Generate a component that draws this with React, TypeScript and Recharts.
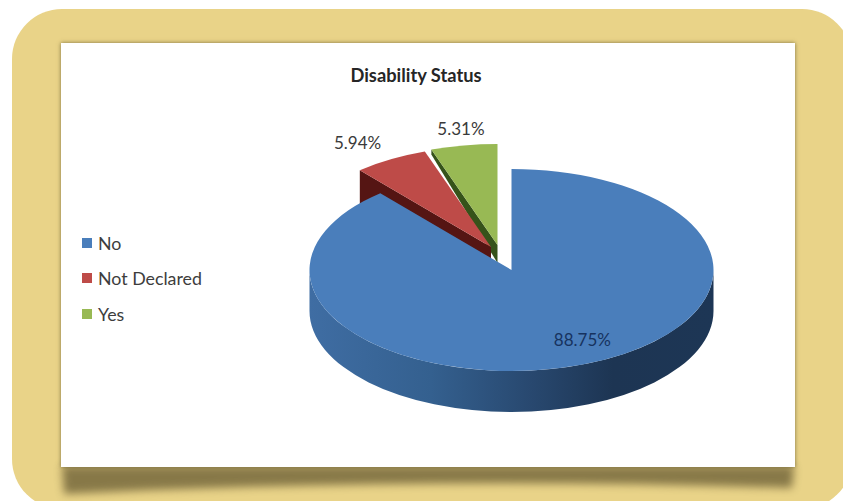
import React from "react";
import { PieChart, Pie, Legend } from "recharts";

// Disability status shares, in percent.
const categories = ["No", "Not Declared", "Yes"];
const shares = [88.75, 5.94, 5.31];
const sliceColors = ["#4a7ebb", "#be4b48", "#98b954"];

// Painted back to front and counter-clockwise from twelve o'clock, so the large slice overlaps the others.
const table = categories
  .map((name, i) => ({ name, value: shares[i], fill: sliceColors[i] }))
  .reverse();

const W = 843;
const H = 501;
const CX = 511.5;
const CY = 270;
const RX = 202;
const TILT = 0.5;
const DEPTH = 41;

type Look = { dx: number; dy: number; wall?: string; rimDrop?: number; apexDrop?: number; ink: string };
const looks: Record<string, Look> = {
  No: { dx: 0, dy: 0, ink: "#17335f" },
  "Not Declared": { dx: -20.5, dy: -23, wall: "#551513", rimDrop: 40, apexDrop: 40, ink: "#3a3a3a" },
  Yes: { dx: -14, dy: -25, wall: "#36531a", rimDrop: 5, apexDrop: 18, ink: "#3a3a3a" },
};
// Pixel nudges from the rim point of each slice to its percentage text.
const labelNudge: Record<string, [number, number]> = {
  No: [1, -25],
  "Not Declared": [-33, -17],
  Yes: [-3, -17],
};

const rad = (d: number) => (d * Math.PI) / 180;

function EllipticSlice(props: any) {
  const { cx, cy, outerRadius, startAngle, endAngle, fill, name } = props;
  const look = looks[name] ?? looks.No;
  const ox = cx + look.dx;
  const oy = cy + look.dy;
  const rx = outerRadius;
  const ry = outerRadius * TILT;
  const at = (a: number) => [ox + rx * Math.cos(rad(a)), oy - ry * Math.sin(rad(a))];
  const [sx, sy] = at(startAngle);
  const [ex, ey] = at(endAngle);
  const large = Math.abs(endAngle - startAngle) > 180 ? 1 : 0;
  const top = `M${ox},${oy} L${sx},${sy} A${rx},${ry} 0 ${large} 0 ${ex},${ey} Z`;
  return (
    <g>
      {look.wall ? (
        <path
          d={`M${ex},${ey} L${ox},${oy} L${ox},${oy + look.apexDrop!} L${ex},${ey + look.rimDrop!} Z`}
          fill={look.wall}
        />
      ) : (
        <>
          <defs>
            <linearGradient id="sideWall" gradientUnits="userSpaceOnUse" x1={ox - rx} y1={0} x2={ox + rx} y2={0}>
              <stop offset="0" stopColor="#3f6da3" />
              <stop offset="0.3" stopColor="#34608f" />
              <stop offset="0.55" stopColor="#28486f" />
              <stop offset="0.75" stopColor="#1d3553" />
              <stop offset="1" stopColor="#1d3655" />
            </linearGradient>
          </defs>
          <path
            d={`M${ox - rx},${oy} A${rx},${ry} 0 0 0 ${ox + rx},${oy} L${ox + rx},${oy + DEPTH} A${rx},${ry} 0 0 1 ${ox - rx},${oy + DEPTH} Z`}
            fill="url(#sideWall)"
          />
        </>
      )}
      <path d={top} fill={fill} />
    </g>
  );
}

function PercentLabel(props: any) {
  const { cx, cy, outerRadius, midAngle, name, value } = props;
  const look = looks[name] ?? looks.No;
  const [nx, ny] = labelNudge[name] ?? [0, 0];
  const x = cx + look.dx + outerRadius * Math.cos(rad(midAngle)) + nx;
  const y = cy + look.dy - outerRadius * TILT * Math.sin(rad(midAngle)) + ny;
  return (
    <text x={x} y={y} textAnchor="middle" dominantBaseline="central" fill={look.ink} fontFamily="Lato" fontSize={17}>
      {`${Number(value).toFixed(2)}%`}
    </text>
  );
}

function KeyList({ payload }: any) {
  return (
    <div style={{ fontFamily: "Lato", fontSize: 17.8, color: "#3d3d3d" }}>
      {(payload ?? []).map((row: any) => (
        <div key={row.value} style={{ display: "flex", alignItems: "center", height: 35.5 }}>
          <span style={{ width: 10, height: 10, background: row.color, marginRight: 6, display: "inline-block" }} />
          {row.value}
        </div>
      ))}
    </div>
  );
}

export default function App() {
  return (
    <div style={{ position: "fixed", left: 0, top: 0, width: W, height: H, background: "#fff", overflow: "hidden" }}>
      {/* Rounded card */}
      <div style={{ position: "absolute", left: 12, top: 9, width: 840, height: 500, borderRadius: 50, background: "#e9d388" }} />
      {/* Curved drop shadow under the panel */}
      <svg width={W} height={H} style={{ position: "absolute", left: 0, top: 0 }}>
        <path
          d="M62,466 L794,466 L792,488 Q430,476 64,494 Z"
          fill="#6f6238"
          opacity={0.8}
          style={{ filter: "blur(4px)" }}
        />
      </svg>
      {/* White panel */}
      <div
        style={{
          position: "absolute",
          left: 61,
          top: 43,
          width: 734,
          height: 424,
          background: "#fff",
          boxShadow: "0 0 4px rgba(90,80,40,0.75)",
        }}
      />
      <div style={{ position: "absolute", left: 0, top: 0 }}>
        <PieChart width={W} height={H} margin={{ top: 0, right: 0, bottom: 0, left: 0 }} style={{ background: "transparent" }}>
          <text x={416} y={75} textAnchor="middle" dominantBaseline="central" fontFamily="Lato" fontWeight={700} fontSize={18.3} fill="#262626">
            Disability Status
          </text>
          <Pie
            data={table}
            dataKey="value"
            nameKey="name"
            cx={CX}
            cy={CY}
            innerRadius={0}
            outerRadius={RX}
            startAngle={90}
            endAngle={450}
            stroke="none"
            isAnimationActive={false}
            shape={EllipticSlice}
            label={PercentLabel}
            labelLine={false}
          />
          <Legend
            layout="vertical"
            align="center"
            verticalAlign="middle"
            content={KeyList}
            wrapperStyle={{ left: 82, top: 225, width: 140 }}
          />
        </PieChart>
      </div>
    </div>
  );
}
